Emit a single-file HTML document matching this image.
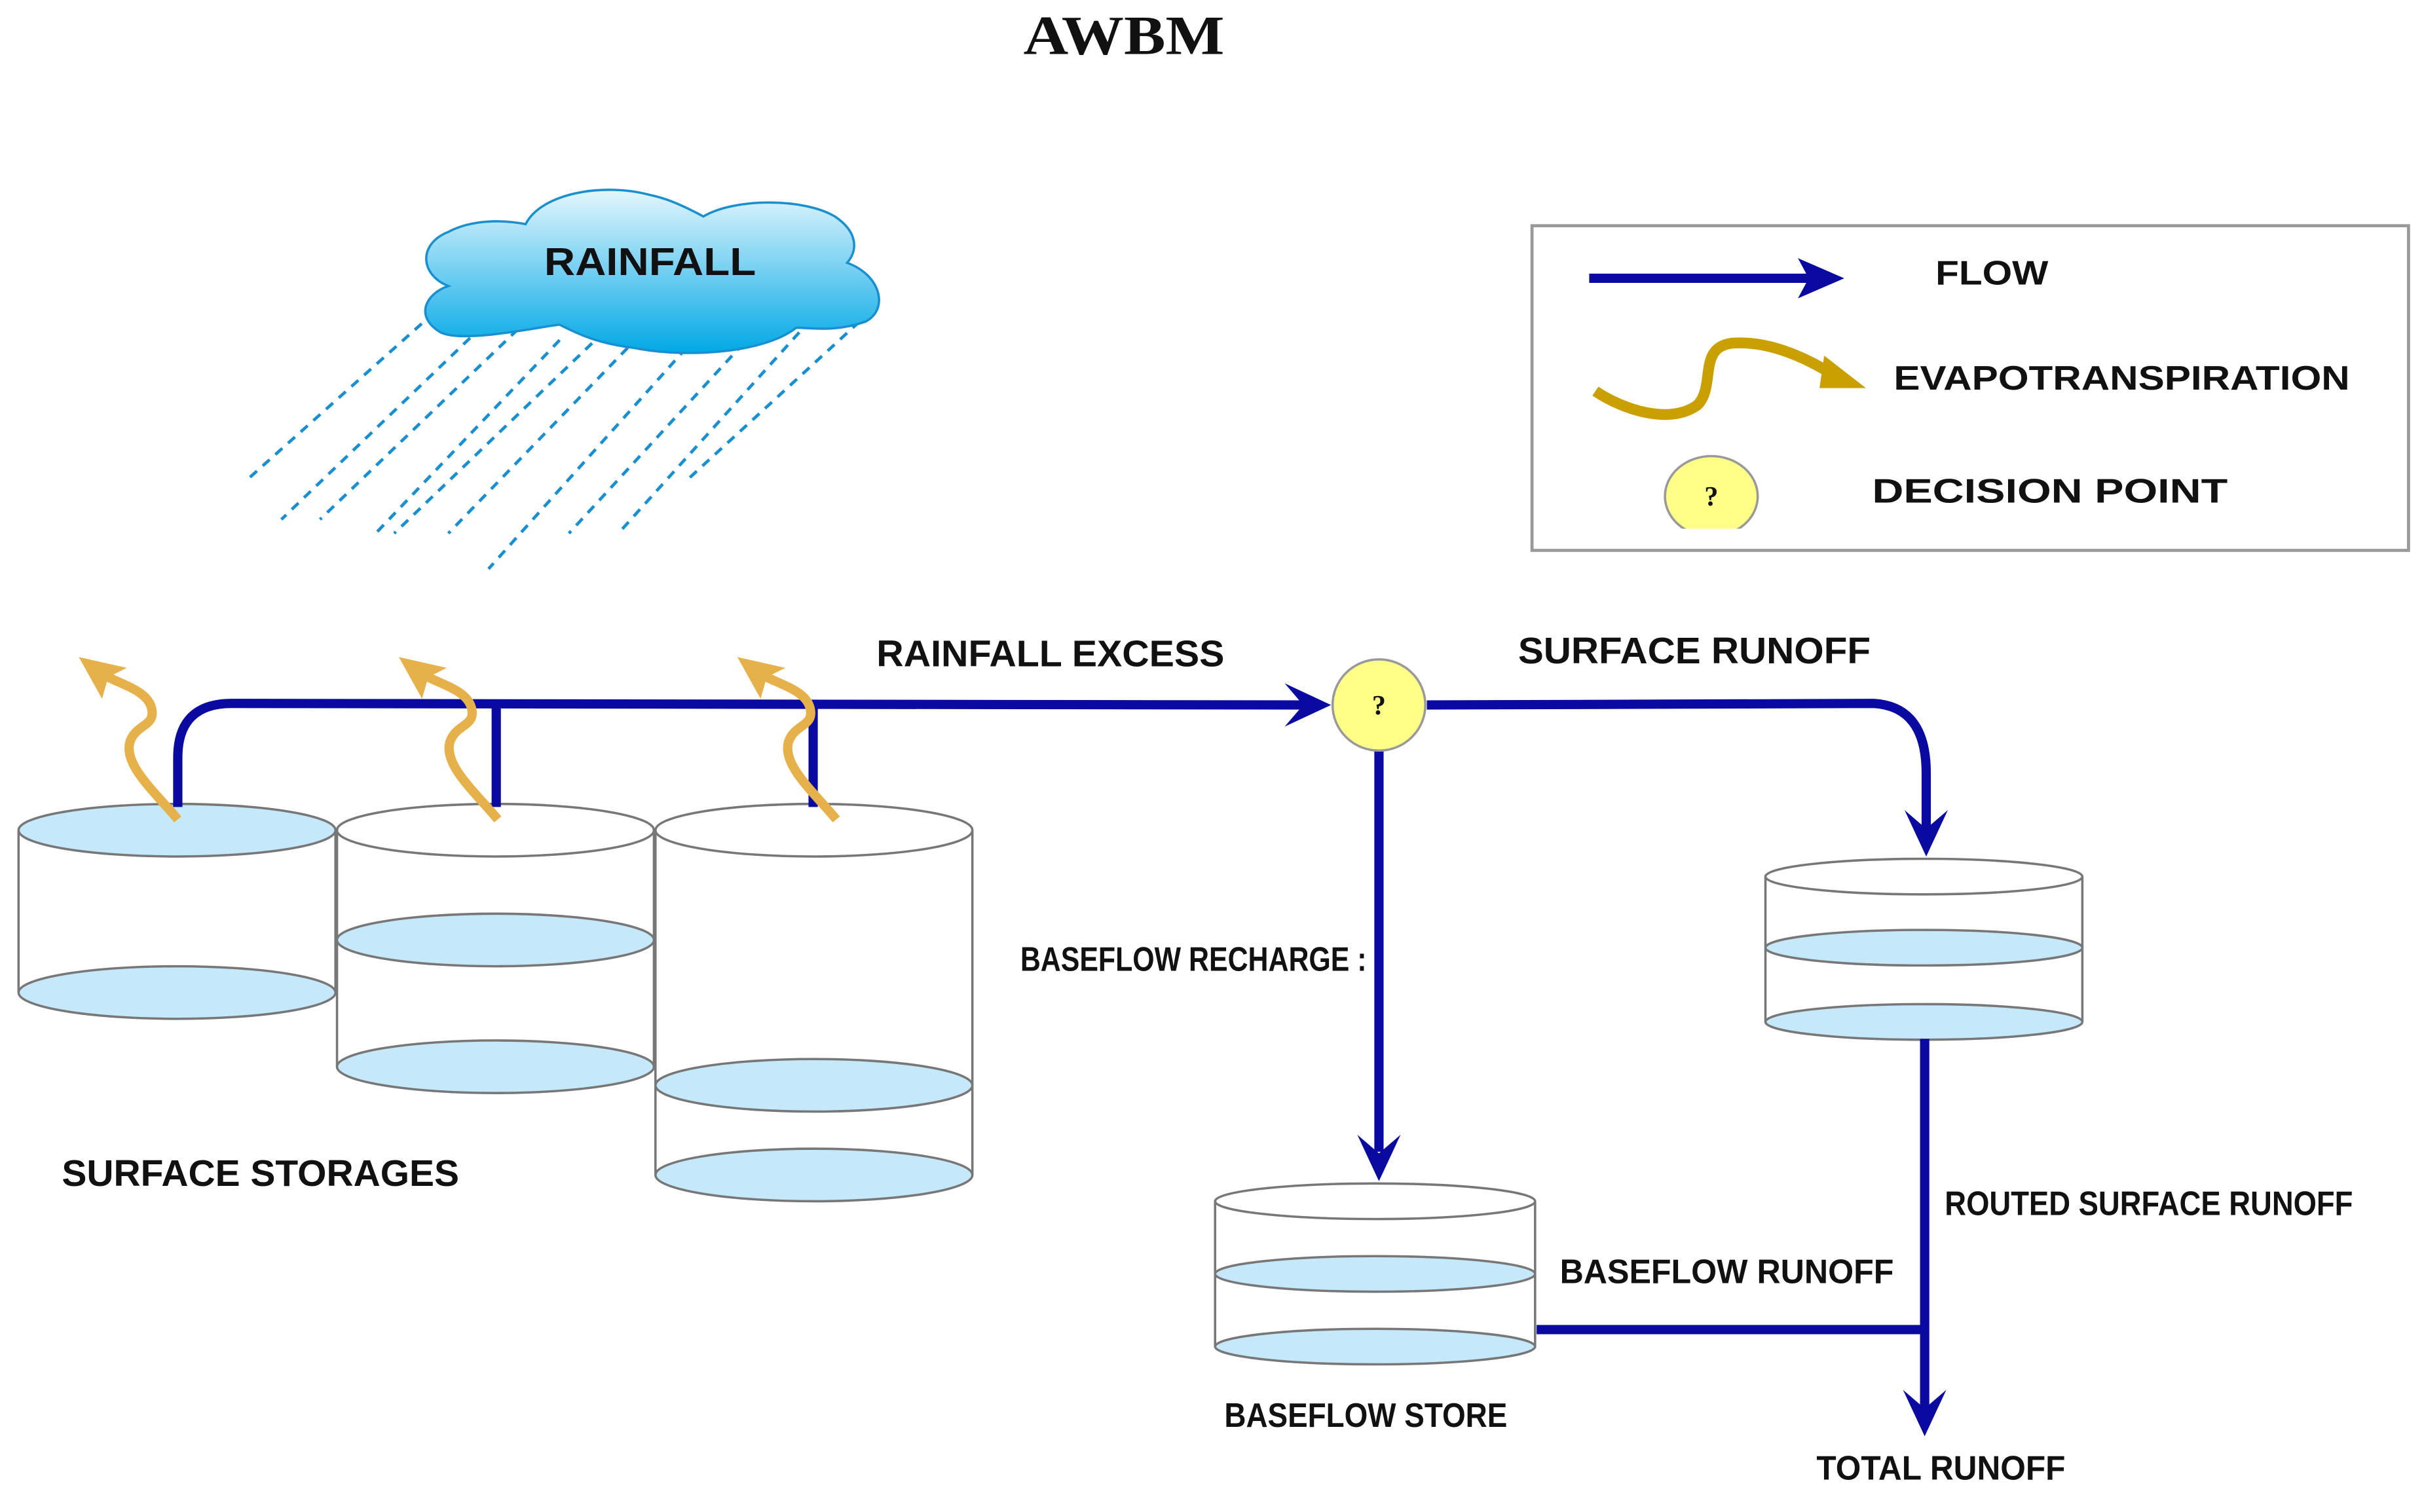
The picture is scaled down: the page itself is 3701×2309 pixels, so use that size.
<!DOCTYPE html>
<html><head><meta charset="utf-8"><style>
html,body{margin:0;padding:0;background:#fff;}
svg{display:block;}
text{font-family:"Liberation Sans",sans-serif;font-weight:bold;fill:#111;}
</style></head><body>
<svg width="3701" height="2309" viewBox="0 0 1568 978" preserveAspectRatio="none" xmlns="http://www.w3.org/2000/svg">
<defs>
<linearGradient id="cg" x1="0" y1="0" x2="0" y2="1">
<stop offset="0" stop-color="#e3f6fc"/><stop offset="0.45" stop-color="#7fd3f3"/><stop offset="1" stop-color="#00a8e6"/>
</linearGradient>
<g id="evap">
<path d="M115,530 C100,512 80,495 84,480 C88,468 101,470 98,458 C95,446 78,443 62,434" fill="none" stroke="#e6b04a" stroke-width="6" stroke-linecap="butt"/>
<polygon points="51,425 82,432 70,438 66,452" fill="#e6b04a"/>
</g>
<g id="ah"><polygon points="-14,-20 0,-8 14,-20 0,10" fill="#0a0aa0"/></g>
</defs>

<text x="727" y="35" text-anchor="middle" style="font-family:'Liberation Serif',serif;font-size:36px" textLength="130" lengthAdjust="spacingAndGlyphs">AWBM</text>

<!-- rain -->
<g stroke="#1a8fd0" stroke-width="2" stroke-dasharray="6,5" fill="none">
<line x1="281" y1="202" x2="158" y2="312"/>
<line x1="312" y1="211" x2="182" y2="336"/>
<line x1="335" y1="213" x2="207" y2="336"/>
<line x1="362" y1="220" x2="243" y2="345"/>
<line x1="383" y1="222" x2="255" y2="345"/>
<line x1="406" y1="225" x2="290" y2="345"/>
<line x1="444" y1="225" x2="316" y2="368"/>
<line x1="481" y1="222" x2="368" y2="345"/>
<line x1="517" y1="215" x2="400" y2="345"/>
<line x1="556" y1="208" x2="445" y2="310"/>
</g>
<!-- cloud -->
<path d="M285,215 C268,205 275,190 290,185 C272,178 270,158 290,150 C305,142 325,142 340,145 C350,125 390,118 420,126 C430,128 440,132 455,140 C475,128 520,128 540,140 C555,150 555,162 548,170 C570,178 575,200 560,208 C540,215 525,212 515,212 C495,228 445,232 410,225 C385,222 372,215 362,210 C345,212 300,222 285,215 Z" fill="url(#cg)" stroke="#1a8fd0" stroke-width="1.5"/>
<text x="352" y="178" style="font-size:25px" textLength="137" lengthAdjust="spacingAndGlyphs">RAINFALL</text>

<!-- legend -->
<rect x="991" y="146" width="567" height="210" fill="#fff" stroke="#999" stroke-width="2"/>
<line x1="1028" y1="180" x2="1175" y2="180" stroke="#0a0aa0" stroke-width="6"/>
<polygon points="1163,167 1193,180 1163,193 1170,180" fill="#0a0aa0"/>
<path d="M1032,253 C1050,265 1080,275 1098,262 C1110,250 1098,225 1120,222 C1145,220 1170,232 1190,245" fill="none" stroke="#c9a000" stroke-width="7"/>
<polygon points="1180,230 1207,251 1177,251" fill="#c9a000"/>
<ellipse cx="1107" cy="321" rx="30" ry="26" fill="#ffff88" stroke="#999" stroke-width="1.5"/>
<rect x="1070" y="342" width="75" height="12" fill="#fff"/>
<text x="1107" y="327" text-anchor="middle" style="font-family:'Liberation Serif',serif;font-size:18px">?</text>
<text x="1252" y="184" style="font-size:22px" textLength="73" lengthAdjust="spacingAndGlyphs">FLOW</text>
<text x="1225" y="252" style="font-size:22px" textLength="295" lengthAdjust="spacingAndGlyphs">EVAPOTRANSPIRATION</text>
<text x="1211" y="325" style="font-size:22px" textLength="230" lengthAdjust="spacingAndGlyphs">DECISION POINT</text>

<!-- cylinders -->
<g stroke="#777" stroke-width="1.5">
<line x1="12" y1="537" x2="12" y2="642"/><line x1="217" y1="537" x2="217" y2="642"/>
<ellipse cx="114.5" cy="642" rx="102.5" ry="17" fill="#c5e8fb"/>
<ellipse cx="114.5" cy="537" rx="102.5" ry="17" fill="#c5e8fb"/>
<line x1="218" y1="537" x2="218" y2="690"/><line x1="423" y1="537" x2="423" y2="690"/>
<ellipse cx="320.5" cy="690" rx="102.5" ry="17" fill="#c5e8fb"/>
<ellipse cx="320.5" cy="608" rx="102.5" ry="17" fill="#c5e8fb"/>
<ellipse cx="320.5" cy="537" rx="102.5" ry="17" fill="#fff"/>
<line x1="424" y1="537" x2="424" y2="760"/><line x1="629" y1="537" x2="629" y2="760"/>
<ellipse cx="526.5" cy="760" rx="102.5" ry="17" fill="#c5e8fb"/>
<ellipse cx="526.5" cy="702" rx="102.5" ry="17" fill="#c5e8fb"/>
<ellipse cx="526.5" cy="537" rx="102.5" ry="17" fill="#fff"/>
<line x1="1142" y1="567" x2="1142" y2="661"/><line x1="1347" y1="567" x2="1347" y2="661"/>
<ellipse cx="1244.5" cy="661" rx="102.5" ry="11.5" fill="#c5e8fb"/>
<ellipse cx="1244.5" cy="613" rx="102.5" ry="11.5" fill="#c5e8fb"/>
<ellipse cx="1244.5" cy="567" rx="102.5" ry="11.5" fill="#fff"/>
<line x1="786" y1="777" x2="786" y2="871"/><line x1="993" y1="777" x2="993" y2="871"/>
<ellipse cx="889.5" cy="871" rx="103.5" ry="11.5" fill="#c5e8fb"/>
<ellipse cx="889.5" cy="824" rx="103.5" ry="11.5" fill="#c5e8fb"/>
<ellipse cx="889.5" cy="777" rx="103.5" ry="11.5" fill="#fff"/>
</g>

<!-- flows -->
<g stroke="#0a0aa0" stroke-width="6" fill="none">
<path d="M115,522 L115,490 Q115,455 150,455 L845,456"/>
<line x1="321" y1="455" x2="321" y2="522"/>
<line x1="526" y1="455" x2="526" y2="522"/>
<line x1="892" y1="484" x2="892" y2="745"/>
<path d="M923,456 L1212,455 Q1246,457 1246,500 L1246,540"/>
<line x1="1245" y1="672" x2="1245" y2="915"/>
<line x1="994" y1="860" x2="1245" y2="860"/>
</g>
<use href="#ah" transform="translate(892,754)"/>
<use href="#ah" transform="translate(1246,544)"/>
<use href="#ah" transform="translate(1245,919)"/>
<use href="#ah" transform="translate(851,456) rotate(-90)"/>
<ellipse cx="892" cy="456" rx="30" ry="29.5" fill="#ffff88" stroke="#999" stroke-width="1.5"/>
<text x="892" y="462" text-anchor="middle" style="font-family:'Liberation Serif',serif;font-size:18px">?</text>

<use href="#evap"/>
<use href="#evap" transform="translate(207,0)"/>
<use href="#evap" transform="translate(426,0)"/>

<!-- labels -->
<text x="567" y="431" style="font-size:24px" textLength="225" lengthAdjust="spacingAndGlyphs">RAINFALL EXCESS</text>
<text x="982" y="429" style="font-size:24px" textLength="228" lengthAdjust="spacingAndGlyphs">SURFACE RUNOFF</text>
<text x="660" y="628" style="font-size:22px" textLength="224" lengthAdjust="spacingAndGlyphs">BASEFLOW RECHARGE :</text>
<text x="40" y="767" style="font-size:24px" textLength="257" lengthAdjust="spacingAndGlyphs">SURFACE STORAGES</text>
<text x="1258" y="786" style="font-size:22px" textLength="264" lengthAdjust="spacingAndGlyphs">ROUTED SURFACE RUNOFF</text>
<text x="1009" y="830" style="font-size:22px" textLength="216" lengthAdjust="spacingAndGlyphs">BASEFLOW RUNOFF</text>
<text x="792" y="923" style="font-size:22px" textLength="183" lengthAdjust="spacingAndGlyphs">BASEFLOW STORE</text>
<text x="1175" y="957" style="font-size:22px" textLength="161" lengthAdjust="spacingAndGlyphs">TOTAL RUNOFF</text>
</svg>
</body></html>
